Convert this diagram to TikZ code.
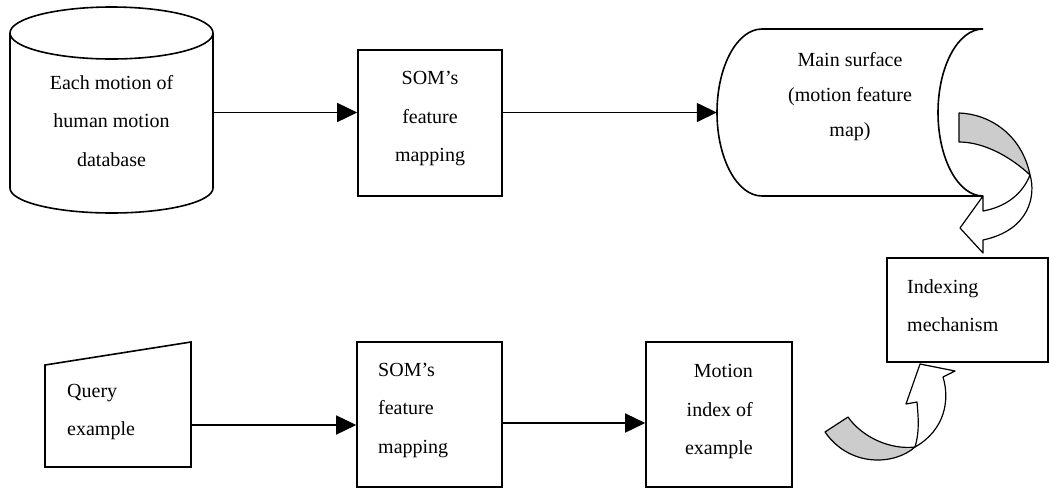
\documentclass[tikz,border=0pt]{standalone}
\usepackage{fontspec}
\setmainfont{Liberation Serif}
\usetikzlibrary{arrows.meta}
\newcommand{\sv}{\rule[-7pt]{0pt}{23pt}}
\begin{document}
\begin{tikzpicture}[x=1pt,y=-1pt,
  shp/.style={line width=1.6pt, line join=miter},
  boxnode/.style={draw, line width=1.6pt, inner sep=0pt},
  ghost/.style={inner sep=0pt, draw=none},
  lbl/.style={inner sep=0pt, font=\fontsize{20}{38.5}\selectfont},
  arr/.style={line width=1.5pt, -{Triangle[length=20pt,width=19pt]}},
  bendarrow/.style={draw, line width=1.2pt, line join=round},
  backside/.style={fill=gray!40}]
\useasboundingbox (0,0) rectangle (1049,488);
% database cylinder
\node[ghost, minimum width=203pt, minimum height=206pt] (db) at (111.5,110) {};
\draw[shp] (10,33) -- (10,188) .. controls (10,201.8) and (55.4,213) .. (111.5,213) .. controls (167.6,213) and (213,201.8) .. (213,188) -- (213,33);
\draw[shp] (111.5,33) ellipse [x radius=101.5pt, y radius=26pt];
\node[lbl, align=center] (dbt) at (111.5,123) {\sv Each motion of\\\sv human motion\\\sv database};
% SOM 1
\node[boxnode, minimum width=144pt, minimum height=146pt] (som1) at (430,123) {};
\node[lbl, align=center] (som1t) at (430,118.5) {\sv SOM’s\\\sv feature\\\sv mapping};
% main surface
\node[ghost, minimum width=266pt, minimum height=167pt] (ms) at (850,112.5) {};
\draw[shp] (762,29) -- (983,29) .. controls (958.1,29) and (938,66.4) .. (938,112.5) .. controls (938,158.6) and (958.1,196) .. (983,196) -- (762,196) .. controls (737.1,196) and (717,158.6) .. (717,112.5) .. controls (717,66.4) and (737.1,29) .. (762,29) -- cycle;
\node[lbl, align=center, font=\fontsize{20}{35}\selectfont] (mst) at (850,97) {\sv Main surface\\\sv (motion feature\\\sv map)};
% indexing mechanism
\node[boxnode, minimum width=161pt, minimum height=104pt] (im) at (967.5,310) {};
\node[lbl, align=left, anchor=west] (imt) at (907,308) {\sv Indexing\\\sv mechanism};
% query example
\node[ghost, minimum width=146pt, minimum height=125pt] (qe) at (118,404.5) {};
\draw[shp] (45,365) -- (191,342) -- (191,467) -- (45,467) -- cycle;
\node[lbl, align=left, anchor=west] (qet) at (67,412) {\sv Query\\\sv example};
% SOM 2
\node[boxnode, minimum width=145pt, minimum height=145pt] (som2) at (429.5,414.5) {};
\node[lbl, align=left, anchor=west] (som2t) at (378,410) {\sv SOM’s\\\sv feature\\\sv mapping};
% motion index
\node[boxnode, minimum width=146pt, minimum height=145pt] (mi) at (719,414.5) {};
\node[lbl, align=right, anchor=east] (mit) at (753,411.5) {\sv Motion\\\sv index of\\\sv example};
% straight connectors
\coordinate (h1) at (0,112.5);
\draw[arr] (db.east |- h1) -- (som1.west |- h1);
\draw[arr] (som1.east |- h1) -- (ms.west |- h1);
\coordinate (h2) at (0,425);
\draw[arr] (qe.east |- h2) -- (som2.west |- h2);
\coordinate (h3) at (0,423);
\draw[arr] (som2.east |- h3) -- (mi.west |- h3);
% curved arrow: main surface -> indexing
\path[bendarrow, fill=white] (1030,175) .. controls (1036,195) and (1030,230) .. (983,240) -- (983,253) -- (960,228) -- (983,196) -- (983,211) .. controls (1005,207) and (1022,195) .. (1030,175) -- cycle;
\path[bendarrow, backside] (959,113) .. controls (990,114) and (1022,135) .. (1030,175) .. controls (1012,158) and (985,142) .. (959,142) -- cycle;
% curved arrow: motion index -> indexing
\path[bendarrow, fill=white] (915,447) .. controls (920,430) and (918,415) .. (917,402) -- (906,404) -- (920,364) -- (955,371) -- (943,377) .. controls (950,400) and (945,430) .. (915,447) -- cycle;
\path[bendarrow, backside] (848,417) .. controls (862,437) and (890,450) .. (915,447) .. controls (895,465) and (850,468) .. (825,432) -- cycle;
\end{tikzpicture}
\end{document}
